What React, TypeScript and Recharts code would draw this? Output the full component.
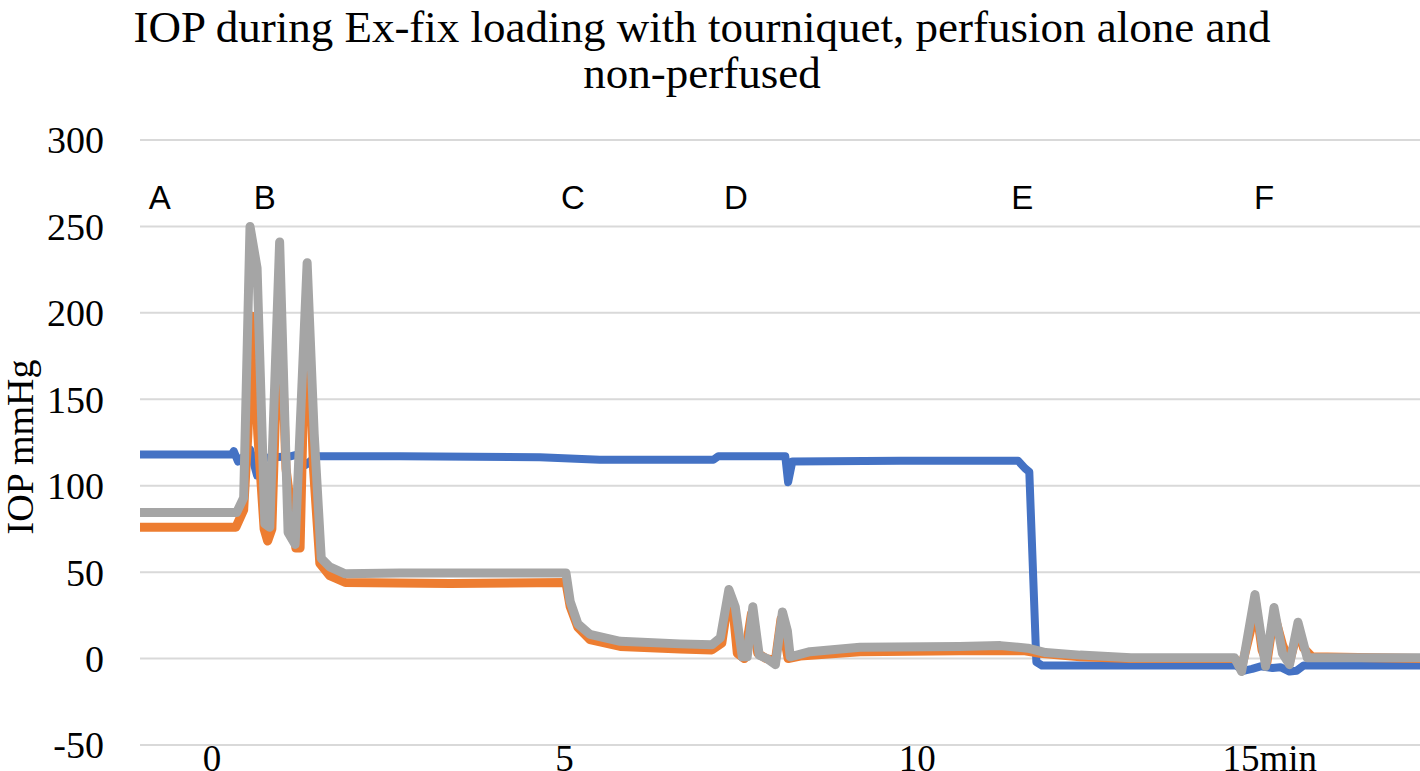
import React from 'react'
import { LineChart, Line, XAxis, YAxis, CartesianGrid, Scatter } from 'recharts'

// time in minutes, IOP in mmHg
const tourniquetT = [-1.02, 0.28, 0.31, 0.37, 0.48, 0.54, 0.64, 0.72, 1.11, 1.21, 1.33, 1.48, 2.67, 4.65, 5.5, 7.11, 7.18, 8.13, 8.17, 8.23, 9.76, 11.43, 11.53, 11.59, 11.69, 11.77, 12.6, 14.52, 14.64, 14.75, 14.87, 15.04, 15.15, 15.28, 15.38, 15.48, 17.13]
const tourniquetV = [118, 118, 120, 114, 118, 121, 106, 116, 117, 118, 112, 117, 117, 116.5, 115, 115, 117, 117, 102, 114, 114.5, 114.5, 110, 108, -2, -4, -4, -4, -7, -6, -4.5, -5.5, -5, -7.5, -7, -4, -4]

const perfusionT = [-1.02, 0.34, 0.45, 0.51, 0.57, 0.65, 0.74, 0.79, 0.85, 0.93, 0.97, 1.05, 1.19, 1.25, 1.31, 1.36, 1.44, 1.53, 1.67, 1.89, 3.38, 5.02, 5.08, 5.19, 5.36, 5.79, 6.64, 7.09, 7.23, 7.32, 7.39, 7.45, 7.55, 7.65, 7.74, 7.86, 7.99, 8.07, 8.17, 8.34, 9.19, 10.6, 11.53, 11.74, 12.31, 13.03, 14.5, 14.6, 14.72, 14.8, 14.89, 14.96, 15.06, 15.18, 15.28, 15.4, 15.48, 15.6, 17.13]
const perfusionV = [76, 76, 86, 130, 198, 130, 75, 68, 75, 180, 205, 110, 64, 64, 170, 200, 110, 55, 48, 44, 43.5, 44, 30, 18, 11, 7, 5.5, 5, 9, 34, 28, 3, 0, 26, 3, 0, -1, 23, 0, 1.5, 4, 4.5, 4.5, 3, 1, 0, 0, -5, 15, 32, 5, -2, 26, 8, -2, 17, 6, 1, 0]

const nonPerfusedT = [-1.02, 0.35, 0.45, 0.54, 0.64, 0.75, 0.82, 0.96, 1.08, 1.18, 1.35, 1.45, 1.55, 1.67, 1.89, 2.67, 5.02, 5.08, 5.19, 5.36, 5.79, 6.64, 7.09, 7.21, 7.33, 7.42, 7.52, 7.59, 7.67, 7.76, 7.87, 7.99, 8.09, 8.16, 8.2, 8.48, 9.19, 10.6, 11.18, 11.57, 11.82, 12.31, 13.03, 14.5, 14.6, 14.79, 14.94, 15.06, 15.18, 15.28, 15.4, 15.53, 17.13]
const nonPerfusedV = [84.5, 84.5, 93, 250, 226, 78, 76, 241, 73, 66, 229, 130, 58, 53, 49, 49.5, 49.5, 33, 20, 14, 10, 8.5, 8, 12, 40, 30, 1, 1, 30, 2, 0, -3.5, 27, 16, 1, 4, 6.5, 7, 7.5, 6, 3.5, 2, 0.5, 0.5, -7.5, 37, -4.5, 29.5, 3, -3.5, 21, 0.5, 0.5]

const phaseLabels = ['A', 'B', 'C', 'D', 'E', 'F']
const phaseT = [-0.74, 0.75, 5.12, 7.43, 11.49, 14.92]
const phaseY = 267

const xTicks = [0, 5, 10, 15]
const yTicks = [-50, 0, 50, 100, 150, 200, 250, 300]

const toPoints = (ts: number[], vs: number[]) => ts.map((t, i) => ({ t, v: vs[i] }))
const tourniquet = toPoints(tourniquetT, tourniquetV)
const perfusion = toPoints(perfusionT, perfusionV)
const nonPerfused = toPoints(nonPerfusedT, nonPerfusedV)
const phases = phaseLabels.map((label, i) => ({ t: phaseT[i], v: phaseY, label }))

const serif = '"Liberation Serif", "Times New Roman", serif'

export default function App() {
  return (
    <div style={{ position: 'absolute', left: 0, top: 0, width: 1420, height: 771, background: '#fff' }}>
      <div style={{
        position: 'absolute', left: 0, top: 4, width: 1404, textAlign: 'center',
        fontFamily: serif, fontSize: 45, lineHeight: '46px', color: '#000'
      }}>
        IOP during Ex-fix loading with tourniquet, perfusion alone and<br />non-perfused
      </div>
      <LineChart width={1420} height={771} margin={{ top: 140, right: 0, bottom: 0, left: 0 }}>
        <CartesianGrid vertical={false} stroke="#d9d9d9" strokeWidth={2} />
        <XAxis
          type="number" dataKey="t" domain={[-1.02, 17.13]} ticks={xTicks} allowDataOverflow
          axisLine={false} tickLine={false} tickSize={0} tickMargin={0} height={26}
          tick={{ fontSize: 37, fill: '#000', fontFamily: serif }}
          tickFormatter={(v) => (v === 15 ? '15min' : String(v))}
        />
        <YAxis
          type="number" domain={[-50, 300]} ticks={yTicks} width={140}
          axisLine={false} tickLine={false} tickSize={0} tickMargin={36}
          tick={{ fontSize: 38, fill: '#000', fontFamily: serif }}
          label={{
            content: () => (
              <text x={20} y={447} transform="rotate(-90, 20, 447)" textAnchor="middle"
                dominantBaseline="central" fontSize={38} fontFamily={serif} fill="#000">
                IOP mmHg
              </text>
            )
          }}
        />
        <Line data={tourniquet} dataKey="v" name="Tourniquet" type="linear" stroke="#4472C4" strokeWidth={8}
          strokeLinejoin="round" strokeLinecap="round" dot={false} isAnimationActive={false} />
        <Line data={perfusion} dataKey="v" name="Perfusion alone" type="linear" stroke="#ED7D31" strokeWidth={9}
          strokeLinejoin="round" strokeLinecap="round" dot={false} isAnimationActive={false} />
        <Line data={nonPerfused} dataKey="v" name="Non-perfused" type="linear" stroke="#A5A5A5" strokeWidth={9}
          strokeLinejoin="round" strokeLinecap="round" dot={false} isAnimationActive={false} />
        <Scatter
          data={phases} dataKey="v" isAnimationActive={false}
          shape={(p: any) => (
            <text x={p.cx} y={p.cy} textAnchor="middle" dominantBaseline="central"
              fontSize={33} fontFamily='"Liberation Sans", Arial, sans-serif' fill="#000">
              {p.payload.label}
            </text>
          )}
        />
      </LineChart>
    </div>
  )
}
